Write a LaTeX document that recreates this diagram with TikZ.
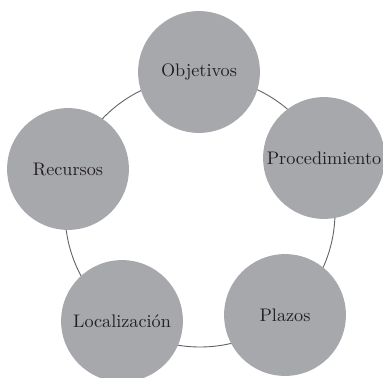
\documentclass[tikz,border=0pt]{standalone}
\usepackage{tikz}
\definecolor{discgray}{RGB}{167,168,172}
\definecolor{ringgray}{RGB}{100,100,103}
\definecolor{labelink}{RGB}{35,31,32}

\begin{document}
\begin{tikzpicture}[x=0.55pt, y=-0.55pt,
  disc/.style={circle, fill=discgray, minimum size=67pt, inner sep=0pt,
               text=labelink, font=\normalsize},
  ring/.style={draw=ringgray, line width=0.5pt}]

  \useasboundingbox (0,0) rectangle (383,378);

  %% ring behind the discs
  \draw[ring] (200,212) circle[radius=135];

  %% the five stages
  \node[disc] (obj)  at (199,72)  {Objetivos};
  \node[disc] (proc) at (324,158) {Procedimiento};
  \node[disc] (plaz) at (285,315) {Plazos};
  \node[disc] (loc)  at (122,321) {Localización};
  \node[disc] (rec)  at (68,169)  {Recursos};
\end{tikzpicture}
\end{document}
